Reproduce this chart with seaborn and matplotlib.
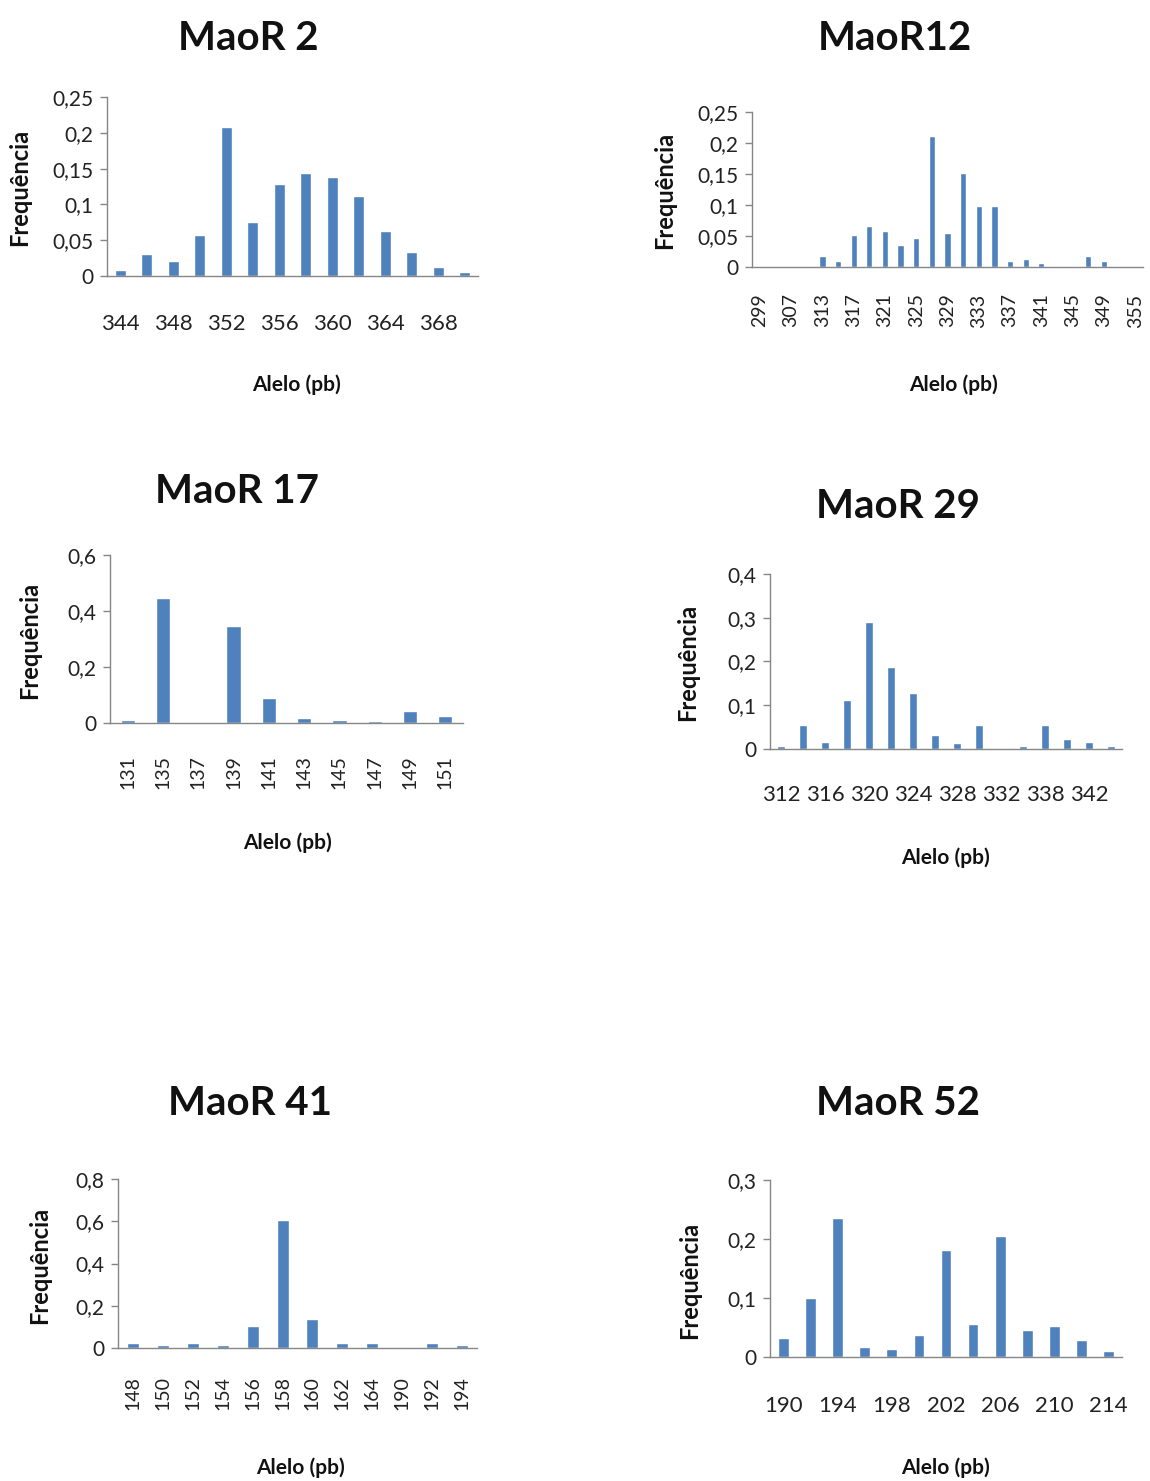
import matplotlib
matplotlib.use("Agg")
import matplotlib.pyplot as plt
import seaborn as sns
from matplotlib.ticker import FuncFormatter, MultipleLocator

# ---------------- data ----------------
m2_labels = ['344', '346', '348', '350', '352', '354', '356', '358', '360', '362', '364', '366', '368', '370']
m2_freq = [0.008, 0.031, 0.021, 0.057, 0.208, 0.076, 0.128, 0.144, 0.138, 0.112, 0.063, 0.034, 0.012, 0.005]

m12_labels = ['299', '303', '307', '311', '313', '315', '317', '319', '321', '323', '325', '327', '329',
              '331', '333', '335', '337', '339', '341', '343', '345', '347', '349', '353', '355']
m12_freq = [0, 0, 0, 0, 0.017, 0.010, 0.051, 0.066, 0.058, 0.036, 0.047, 0.211, 0.055,
            0.152, 0.099, 0.099, 0.010, 0.013, 0.006, 0, 0, 0.017, 0.010, 0, 0]

m17_labels = ['131', '135', '137', '139', '141', '143', '145', '147', '149', '151']
m17_freq = [0.010, 0.445, 0, 0.347, 0.091, 0.018, 0.010, 0.008, 0.042, 0.026]

m29_labels = ['312', '314', '316', '318', '320', '322', '324', '326', '328', '330', '332', '336',
              '338', '340', '342', '344']
m29_freq = [0.008, 0.056, 0.017, 0.113, 0.291, 0.187, 0.129, 0.033, 0.013, 0.056, 0, 0.008,
            0.056, 0.023, 0.017, 0.007]

m41_labels = ['148', '150', '152', '154', '156', '158', '160', '162', '164', '190', '192', '194']
m41_freq = [0.025, 0.016, 0.025, 0.016, 0.105, 0.607, 0.135, 0.025, 0.025, 0, 0.025, 0.016]

m52_labels = ['190', '192', '194', '196', '198', '200', '202', '204', '206', '208', '210', '212', '214']
m52_freq = [0.033, 0.100, 0.236, 0.017, 0.014, 0.037, 0.182, 0.056, 0.205, 0.045, 0.053, 0.029, 0.010]

titles = ["MaoR 2", "MaoR12", "MaoR 17", "MaoR 29", "MaoR 41", "MaoR 52"]
y_label = "Frequência"
x_label = "Alelo (pb)"

# ---------------- style ----------------
sns.set_theme(style="white")
plt.rcParams['font.family'] = ['Lato', 'DejaVu Sans']

W, H = 1150, 1481
fig = plt.figure(figsize=(W / 100, H / 100), dpi=100)
fig.patch.set_facecolor("white")

BAR = "#4F81BD"
GRAY = "#868686"

def comma_fmt(v, pos):
    if abs(v) < 1e-12:
        return "0"
    s = f"{v:.2f}".rstrip("0").rstrip(".")
    return s.replace(".", ",")

# layout in pixels: left, right, top(ymax), bottom(zero)
panels = [
    dict(labels=m2_labels, freq=m2_freq, box=(107, 478, 97, 276), ymax=0.25, ystep=0.05,
         every=2, rot=0, pad=27, title=(248, 50), xlab=(296, 385), ylab=(20, 187)),
    dict(labels=m12_labels, freq=m12_freq, box=(752, 1143, 112, 267), ymax=0.25, ystep=0.05,
         every=2, rot=90, pad=19, title=(895, 50), xlab=(953, 385), ylab=(665, 190)),
    dict(labels=m17_labels, freq=m17_freq, box=(110, 463, 555, 723), ymax=0.6, ystep=0.2,
         every=1, rot=90, pad=23, title=(237, 503), xlab=(287, 843), ylab=(30, 640)),
    dict(labels=m29_labels, freq=m29_freq, box=(770, 1122, 574, 749), ymax=0.4, ystep=0.1,
         every=2, rot=0, pad=26, title=(898, 518), xlab=(945, 858), ylab=(688, 662)),
    dict(labels=m41_labels, freq=m41_freq, box=(118, 477, 1179, 1348), ymax=0.8, ystep=0.2,
         every=1, rot=90, pad=20, title=(250, 1115), xlab=(300, 1468), ylab=(40, 1265)),
    dict(labels=m52_labels, freq=m52_freq, box=(770, 1122, 1180, 1357), ymax=0.3, ystep=0.1,
         every=2, rot=0, pad=28, title=(898, 1115), xlab=(945, 1468), ylab=(690, 1280)),
]

for p, title in zip(panels, titles):
    l, r, t, b = p["box"]
    ax = fig.add_axes([l / W, 1 - b / H, (r - l) / W, (b - t) / H])
    labels = p["labels"]
    n = len(labels)
    sns.barplot(x=labels, y=p["freq"], order=labels, color=BAR, saturation=1,
                width=0.4, ax=ax)
    ax.set_xlim(-0.5, n - 0.5)
    ax.set_ylim(0, p["ymax"])
    ax.yaxis.set_major_locator(MultipleLocator(p["ystep"]))
    ax.yaxis.set_major_formatter(FuncFormatter(comma_fmt))
    pos = list(range(n))[::p["every"]]
    ax.set_xticks(pos)
    ax.set_xticklabels([labels[i] for i in pos], rotation=p["rot"],
                       fontsize=14 if p["rot"] else 16, color="#222222")
    ax.tick_params(axis="x", length=0, pad=p["pad"])
    ax.tick_params(axis="y", length=5, width=1, color=GRAY, direction="out",
                   labelsize=15, labelcolor="#222222", pad=5, left=True)
    for s in ["top", "right"]:
        ax.spines[s].set_visible(False)
    for s in ["left", "bottom"]:
        ax.spines[s].set_color(GRAY)
        ax.spines[s].set_linewidth(1)
    ax.set_xlabel("")
    ax.set_ylabel("")
    ax.set_facecolor("white")

    tx, ty = p["title"]
    fig.text(tx / W, 1 - ty / H, title, ha="center", va="baseline",
             fontsize=29, fontweight="bold", color="#111111")
    xx, xy = p["xlab"]
    fig.text(xx / W, 1 - xy / H, x_label, ha="center", va="center",
             fontsize=15, fontweight="bold", color="#111111")
    yx, yy = p["ylab"]
    fig.text(yx / W, 1 - yy / H, y_label, ha="center", va="center", rotation=90,
             fontsize=17, fontweight="bold", color="#111111")

fig.savefig("out.png", dpi=100, facecolor="white")
